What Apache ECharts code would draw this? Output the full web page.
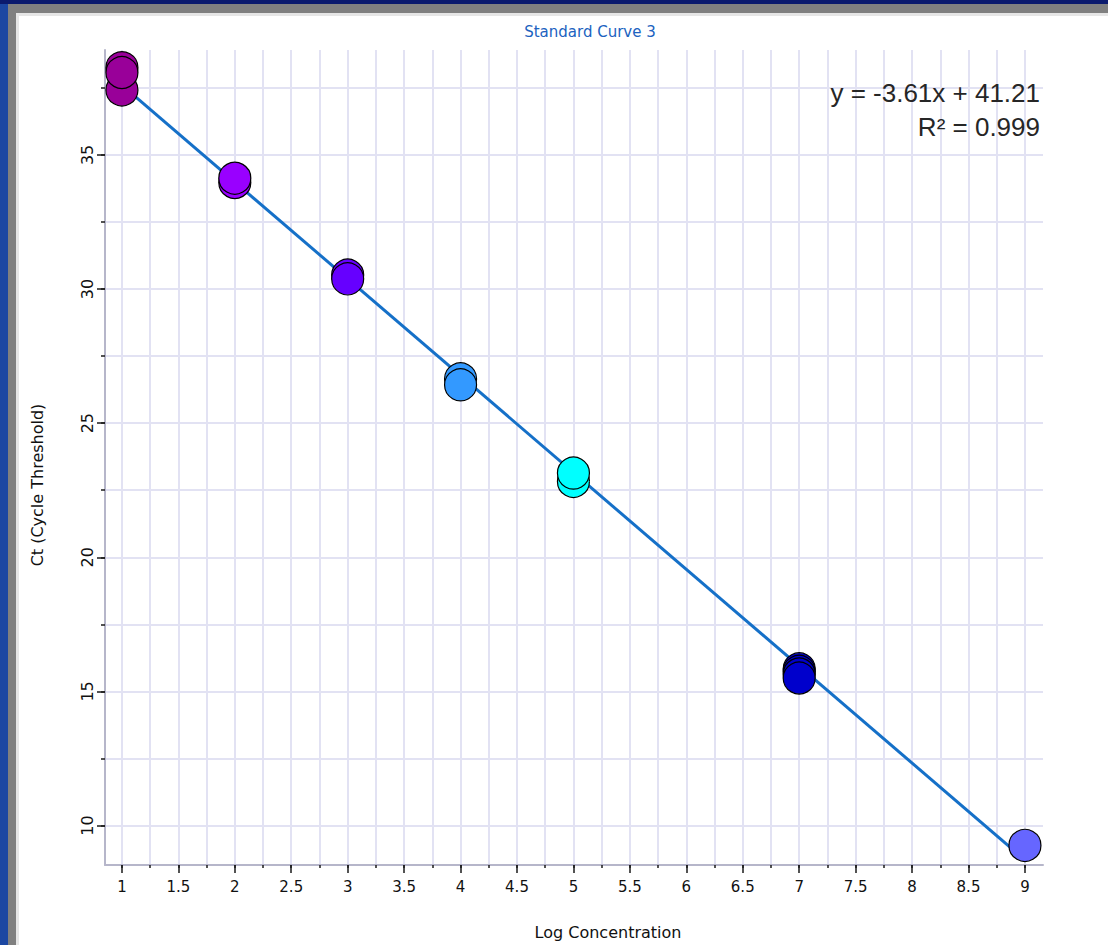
<!DOCTYPE html>
<html>
<head>
<meta charset="utf-8">
<script src="https://cdn.jsdelivr.net/npm/echarts@6/dist/echarts.min.js"></script>
<style>
  html, body { margin: 0; padding: 0; width: 1108px; height: 945px; overflow: hidden; background: #1C47A2; }
  .f { position: absolute; }
</style>
</head>
<body>
<div class="f" style="left:0;top:0;width:1108px;height:4px;background:#0B1A6E"></div>
<div class="f" style="left:8px;top:4px;right:0;bottom:0;background:#808080"></div>
<div class="f" style="left:16px;top:13px;right:0;bottom:0;background:#E6E6E6"></div>
<div class="f" style="left:19px;top:16px;right:0;bottom:0;background:#FFFFFF"></div>
<div id="chart" class="f" style="left:0;top:0;width:1108px;height:945px"></div>
<script>
// ---- data ----
const chartTitle = 'Standard Curve 3';
const xAxisName = 'Log Concentration';
const yAxisName = 'Ct (Cycle Threshold)';
const equationLines = ['y = -3.61x + 41.21', 'R\u00B2 = 0.999'];

// points in drawing order (later ones are drawn on top)
const logConc = [1, 1, 1, 2, 2, 3, 3, 4, 4, 5, 5, 7, 7, 7, 7, 9];
const ctValues = [37.42, 38.25, 38.07, 33.97, 34.13, 30.52, 30.38, 26.65, 26.43, 22.83, 23.14, 15.84, 15.75, 15.65, 15.50, 9.26];

// colour for each standard (log concentration)
const standardLevels = [1, 2, 3, 4, 5, 7, 9];
const standardColors = ['#990099', '#9900FF', '#6600FF', '#3399FF', '#00FFFF', '#0000CC', '#6666FF'];

// fitted line end points
const fitX = [1, 9];
const fitY = [37.6, 8.72];

// ticks and labels
const xMinorTicks = [1, 1.25, 1.5, 1.75, 2, 2.25, 2.5, 2.75, 3, 3.25, 3.5, 3.75, 4, 4.25, 4.5, 4.75, 5, 5.25, 5.5, 5.75, 6, 6.25, 6.5, 6.75, 7, 7.25, 7.5, 7.75, 8, 8.25, 8.5, 8.75, 9];
const xLabelValues = [1, 1.5, 2, 2.5, 3, 3.5, 4, 4.5, 5, 5.5, 6, 6.5, 7, 7.5, 8, 8.5, 9];
const yMinorTicks = [10, 12.5, 15, 17.5, 20, 22.5, 25, 27.5, 30, 32.5, 35, 37.5];
const yLabelValues = [10, 15, 20, 25, 30, 35];
const xRange = [0.85, 9.16];
const yRange = [8.53, 38.91];

// ---- chart ----
const chart = echarts.init(document.getElementById('chart'), null, { renderer: 'svg' });

const pointData = logConc.map((x, i) => ({
  value: [x, ctValues[i]],
  itemStyle: { color: standardColors[standardLevels.indexOf(x)] }
}));
const fitData = fitX.map((x, i) => [x, fitY[i]]);

const fontFam = '"DejaVu Sans", Verdana, sans-serif';
const tickColor = '#1A1A1A';
const axisLineStyle = { color: '#B6B6CA', width: 2 };
const gridStyle = { color: '#E2E2F3', width: 2 };

const option = {
  animation: false,
  backgroundColor: 'transparent',
  grid: { left: 105, top: 50, width: 938, height: 815 },
  xAxis: [
    {
      type: 'value', min: xRange[0], max: xRange[1], position: 'bottom',
      axisLine: { show: true, onZero: false, lineStyle: axisLineStyle },
      axisTick: { show: true, customValues: xMinorTicks, length: 3, lineStyle: { color: tickColor, width: 1.5 } },
      axisLabel: { show: false },
      splitLine: { show: true, lineStyle: gridStyle }
    },
    {
      type: 'value', min: xRange[0], max: xRange[1], position: 'bottom',
      axisLine: { show: false, onZero: false },
      axisTick: { show: true, customValues: xLabelValues, length: 8, lineStyle: { color: tickColor, width: 1.5 } },
      axisLabel: { show: true, customValues: xLabelValues, margin: 14, fontSize: 15, color: '#111', fontFamily: fontFam },
      splitLine: { show: false }
    }
  ],
  yAxis: [
    {
      type: 'value', min: yRange[0], max: yRange[1], position: 'left',
      axisLine: { show: true, onZero: false, lineStyle: axisLineStyle },
      axisTick: { show: true, customValues: yMinorTicks, length: 4, lineStyle: { color: tickColor, width: 1.5 } },
      axisLabel: { show: false },
      splitLine: { show: true, lineStyle: gridStyle }
    },
    {
      type: 'value', min: yRange[0], max: yRange[1], position: 'left',
      axisLine: { show: false, onZero: false },
      axisTick: { show: true, customValues: yLabelValues, length: 8, lineStyle: { color: tickColor, width: 1.5 } },
      axisLabel: { show: true, customValues: yLabelValues, rotate: 90, margin: 10, fontSize: 16, color: '#111', fontFamily: fontFam },
      splitLine: { show: false }
    }
  ],
  graphic: [
    { type: 'text', x: 590, y: 32, style: { text: chartTitle, fill: '#2062C0', font: '15px ' + fontFam, align: 'center', verticalAlign: 'middle' } },
    { type: 'text', x: 608, y: 932, style: { text: xAxisName, fill: '#111', font: '16px ' + fontFam, align: 'center', verticalAlign: 'middle' } },
    { type: 'text', x: 37, y: 485, rotation: Math.PI / 2, style: { text: yAxisName, fill: '#111', font: '16px ' + fontFam, align: 'center', verticalAlign: 'middle' } },
    { type: 'text', x: 1040, y: 93, z: 100, style: { text: equationLines[0], fill: '#262626', font: '26px "Liberation Sans", Arial, sans-serif', align: 'right', verticalAlign: 'middle' } },
    { type: 'text', x: 1040, y: 127, z: 100, style: { text: equationLines[1], fill: '#262626', font: '26px "Liberation Sans", Arial, sans-serif', align: 'right', verticalAlign: 'middle' } }
  ],
  series: [
    {
      type: 'line', xAxisIndex: 0, yAxisIndex: 0, data: fitData, symbol: 'none', z: 2,
      lineStyle: { color: '#1570C8', width: 3 }, silent: true
    },
    {
      type: 'scatter', xAxisIndex: 0, yAxisIndex: 0, data: pointData, symbol: 'circle', symbolSize: 32, z: 3,
      itemStyle: { borderColor: '#000', borderWidth: 1.2, opacity: 1 }
    }
  ]
};
chart.setOption(option);
</script>
</body>
</html>
